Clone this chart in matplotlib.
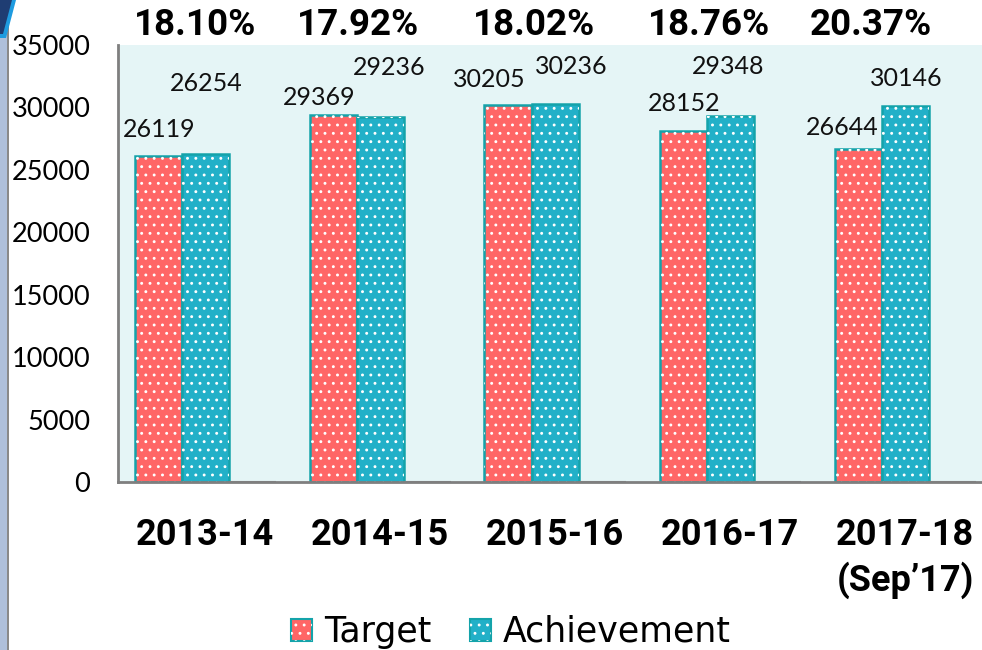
import numpy as np
import matplotlib
matplotlib.use("Agg")
import matplotlib.pyplot as plt
from matplotlib.patches import Patch, Rectangle, Polygon
from matplotlib.legend_handler import HandlerTuple

years = ["2013-14", "2014-15", "2015-16", "2016-17", "2017-18\n(Sep\u201917)"]
target = [26119, 29369, 30205, 28152, 26644]
achievement = [26254, 29236, 30236, 29348, 30146]
blank = [0, 0, 0, 0, 0]
share = [18.10, 17.92, 18.02, 18.76, 20.37]

# label nudges in pixels (dx, dy above bar top)
t_off = [(1, 26), (-14, 18), (-19, 25), (1, 27), (-16, 22)]
a_off = [(1, 71), (9, 49), (16, 38), (-2, 49), (1, 27)]
pct_dx = [-10, -22, -21, -21, -34]

red = "#FF6666"
cyan = "#22B0C8"
teal = "#14A3AA"
grey = "#7F7F7F"

plt.rcParams["hatch.linewidth"] = 0.9

fig = plt.figure(figsize=(9.82, 6.5), dpi=100)
ax = fig.add_axes([118/982, 168/650, 864/982, 437/650])
ax.set_facecolor("#E5F5F6")

x = np.arange(len(years))
w = 47/175

ax.bar(x - w, target, w, color=red, edgecolor=teal, linewidth=1.8, zorder=2)
ax.bar(x - w, target, w, color="none", edgecolor="white", hatch="..", linewidth=0, zorder=3)
ax.bar(x, achievement, w, color=cyan, edgecolor=teal, linewidth=1.8, zorder=2)
ax.bar(x, achievement, w, color="none", edgecolor="white", hatch="..", linewidth=0, zorder=3)
ax.bar(x + w, blank, w, color="none", edgecolor=grey, linewidth=1.5, zorder=2)

for i in range(len(x)):
    ax.annotate(str(target[i]), (x[i] - w, target[i]), xytext=t_off[i],
                textcoords="offset pixels", ha="center", va="center",
                fontsize=18, family="Lato", color="#111111")
    ax.annotate(str(achievement[i]), (x[i], achievement[i]), xytext=a_off[i],
                textcoords="offset pixels", ha="center", va="center",
                fontsize=18, family="Lato", color="#111111")
    ax.annotate(f"{share[i]:.2f}%", (x[i], 1), xycoords=("data", "axes fraction"),
                xytext=(pct_dx[i], 20), textcoords="offset pixels",
                ha="center", va="center", fontsize=26.5, family="Roboto",
                fontweight="bold", annotation_clip=False)

ax.set_xlim((118 - 205)/175, (982 - 205)/175)
ax.set_ylim(0, 35000)
ax.set_yticks(np.arange(0, 35001, 5000))
ax.set_xticks(x)
ax.set_xticklabels(years, fontsize=26, family="Roboto", fontweight="bold",
                   linespacing=1.3)
for lab in ax.get_yticklabels():
    lab.set_family("Lato")
    lab.set_fontsize(19.5)
ax.tick_params(axis="both", length=0)
ax.tick_params(axis="y", pad=20)
ax.tick_params(axis="x", pad=25)

for s in ["top", "right"]:
    ax.spines[s].set_visible(False)
for s in ["left", "bottom"]:
    ax.spines[s].set_color(grey)
    ax.spines[s].set_linewidth(2)

handles = [
    (Patch(facecolor=red, edgecolor=teal, linewidth=1.5),
     Patch(facecolor="none", edgecolor="white", hatch="..", linewidth=0)),
    (Patch(facecolor=cyan, edgecolor=teal, linewidth=1.5),
     Patch(facecolor="none", edgecolor="white", hatch="..", linewidth=0)),
]
fig.legend(handles, ["Target", "Achievement"], loc="center",
           bbox_to_anchor=(511/982, 1 - 632/650), ncol=2, frameon=False,
           handler_map={tuple: HandlerTuple(ndivide=1)},
           prop={"family": "DejaVu Sans", "size": 25},
           handlelength=0.6, handleheight=0.6, handletextpad=0.35,
           columnspacing=1.1)

# left decoration strip
fig.patches.append(Rectangle((0, 0), 7/982, 1, transform=fig.transFigure,
                             facecolor="#AFC0DB", edgecolor="none"))
fig.patches.append(Rectangle((7/982, 0), 2/982, 1, transform=fig.transFigure,
                             facecolor="#8A8A8A", edgecolor="none"))
fig.patches.append(Polygon([(0, 1), (16/982, 1), (6/982, 1 - 38/650), (0, 1 - 38/650)],
                           transform=fig.transFigure, facecolor="#1E9BE0",
                           edgecolor="none"))
fig.patches.append(Polygon([(0, 1), (12/982, 1), (3/982, 1 - 34/650), (0, 1 - 34/650)],
                           transform=fig.transFigure, facecolor="#1F3D73",
                           edgecolor="none"))

fig.savefig("out.png", dpi=100)
